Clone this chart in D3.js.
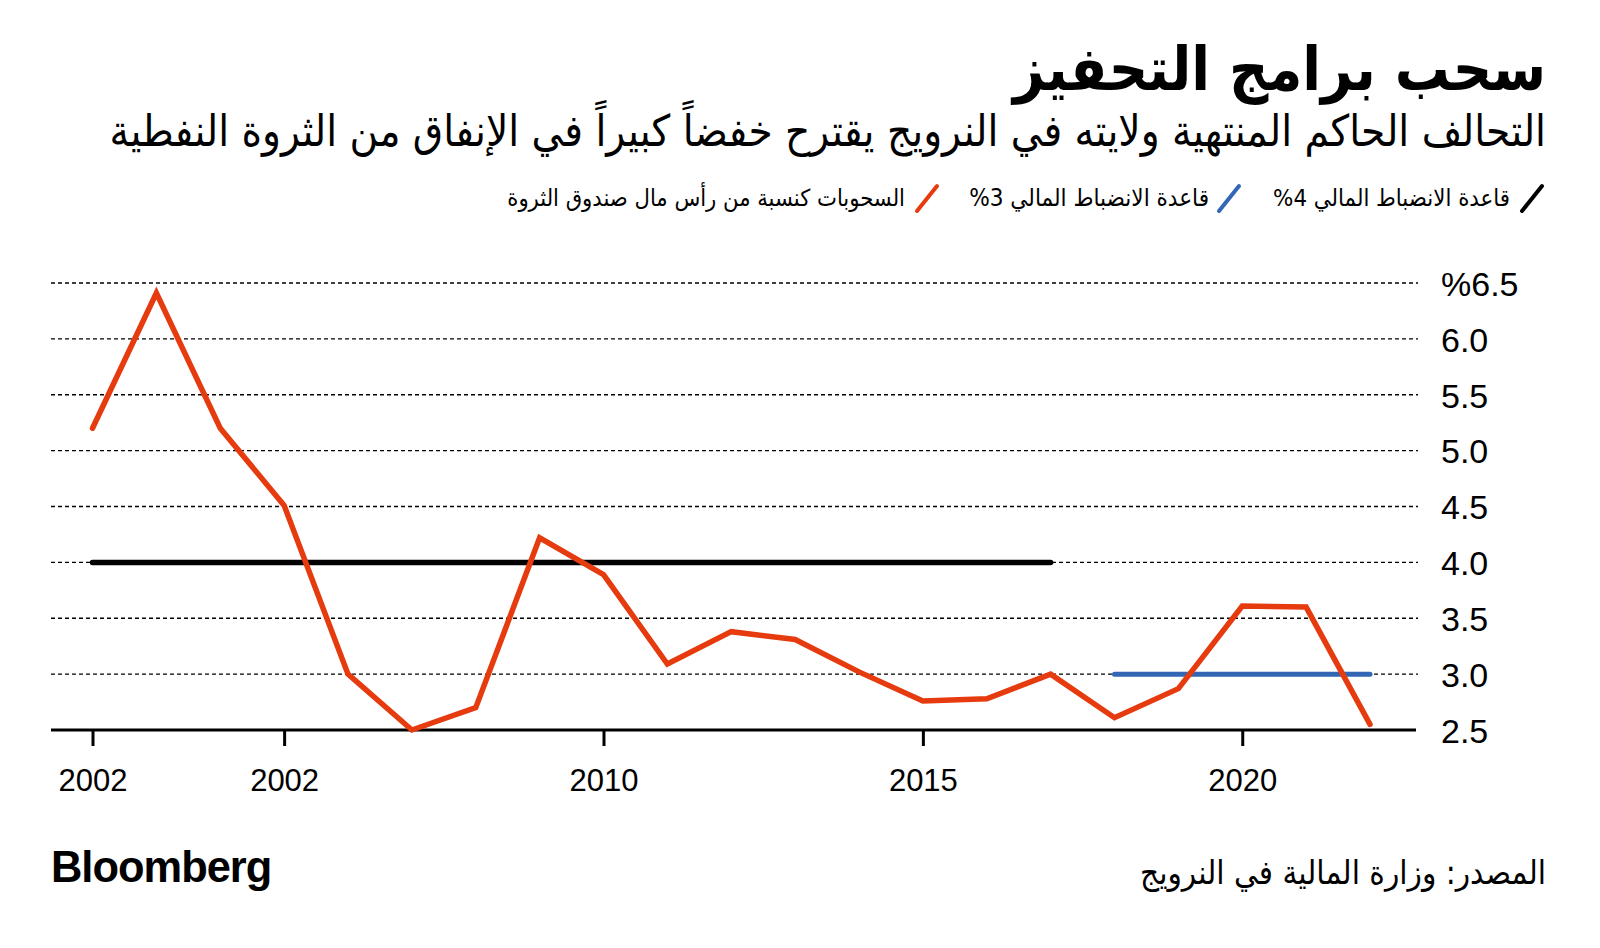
<!DOCTYPE html>
<html><head><meta charset="utf-8">
<script src="https://cdn.jsdelivr.net/npm/d3@7"></script>
<style>
html,body{margin:0;padding:0;background:#fff;}
svg{display:block;}
</style></head>
<body>
<svg id="chart" width="1600" height="948"></svg>
<script>
// ---- data ----
const years = [2002,2003,2004,2005,2006,2007,2008,2009,2010,2011,2012,2013,2014,2015,2016,2017,2018,2019,2020,2021,2022];
const withdrawals = [5.2,6.41,5.2,4.51,3.0,2.5,2.7,4.22,3.89,3.09,3.38,3.31,3.02,2.76,2.78,3.0,2.61,2.87,3.61,3.6,2.55];
const rule4Years = [2002, 2017];
const rule4Values = [4.0, 4.0];
const rule3Years = [2018, 2022];
const rule3Values = [3.0, 3.0];
const xTickValues = [2002, 2005, 2010, 2015, 2020];
const xTickLabels = ["2002", "2002", "2010", "2015", "2020"];
const yTickValues = [2.5,3.0,3.5,4.0,4.5,5.0,5.5,6.0,6.5];
const yTickLabels = ["2.5","3.0","3.5","4.0","4.5","5.0","5.5","6.0","%6.5"];
const titleText = "سحب برامج التحفيز";
const subtitleText = "التحالف الحاكم المنتهية ولايته في النرويج يقترح خفضاً كبيراً في الإنفاق من الثروة النفطية";
const legendLabels = ["قاعدة الانضباط المالي \u202E4%\u202C", "قاعدة الانضباط المالي \u202E3%\u202C", "السحوبات كنسبة من رأس مال صندوق الثروة"];
const legendColors = ["#000000", "#3366b5", "#e63b0e"];
const sourceText = "المصدر: وزارة المالية في النرويج";

// ---- drawing ----
const svg = d3.select("#chart");
const arabicFont = "'DejaVu Sans Condensed','DejaVu Sans',sans-serif";
const latinFont = "'Liberation Sans',Arial,sans-serif";

const x = d3.scaleLinear().domain([2002, 2022]).range([92.5, 1370]);
const y = d3.scaleLinear().domain([2.5, 6.5]).range([730, 283]);

function fitText(sel, targetWidth) {
  const node = sel.node();
  const w = node.getComputedTextLength();
  const fs = parseFloat(sel.attr("font-size"));
  sel.attr("font-size", (fs * targetWidth / w).toFixed(2));
}

// title
const title = svg.append("text").attr("x", 1546).attr("y", 90)
  .attr("direction", "rtl").attr("text-anchor", "start")
  .attr("font-family", arabicFont).attr("font-weight", "bold")
  .attr("font-size", 60).attr("fill", "#000").text(titleText);
fitText(title, 533);

const subtitle = svg.append("text").attr("x", 1546).attr("y", 146)
  .attr("direction", "rtl").attr("text-anchor", "start")
  .attr("font-family", arabicFont)
  .attr("font-size", 34).attr("fill", "#000").text(subtitleText);
fitText(subtitle, 1437);

// legend
const legendSlashX = [1522, 1219, 917];
const legendTextRight = [1510, 1209, 905];
const legendTextWidth = [237, 240, 398];
legendLabels.forEach((lab, i) => {
  svg.append("line")
    .attr("x1", legendSlashX[i]).attr("y1", 211)
    .attr("x2", legendSlashX[i] + 20).attr("y2", 186)
    .attr("stroke", legendColors[i]).attr("stroke-width", 4).attr("stroke-linecap", "round");
  const t = svg.append("text").attr("x", legendTextRight[i]).attr("y", 206)
    .attr("direction", "rtl").attr("text-anchor", "start")
    .attr("font-family", arabicFont).attr("font-size", 20).attr("fill", "#000").text(lab);
  fitText(t, legendTextWidth[i]);
});

// gridlines
svg.append("g").selectAll("line")
  .data(yTickValues.filter(v => v > 2.5))
  .join("line")
  .attr("x1", 51).attr("x2", 1418)
  .attr("y1", d => y(d)).attr("y2", d => y(d))
  .attr("stroke", "#000").attr("stroke-width", 1.3)
  .attr("stroke-dasharray", "4,3");

// y axis labels
const yAxis = d3.axisRight(y).tickValues(yTickValues)
  .tickFormat((d, i) => yTickLabels[i]).tickSize(0).tickPadding(0);
const yg = svg.append("g").attr("transform", "translate(1441,0)").call(yAxis);
yg.select(".domain").remove();
yg.selectAll("text").attr("font-family", latinFont).attr("font-size", 34)
  .attr("fill", "#000").attr("dy", "0.36em");

// x axis
const xAxis = d3.axisBottom(x).tickValues(xTickValues)
  .tickFormat((d, i) => xTickLabels[i]).tickSize(16).tickPadding(23).tickSizeOuter(0);
const xg = svg.append("g").attr("transform", "translate(0,730)").call(xAxis);
xg.select(".domain").remove();
xg.selectAll(".tick line").attr("stroke", "#000").attr("stroke-width", 3);
xg.selectAll("text").attr("font-family", latinFont).attr("font-size", 31).attr("fill", "#000");
svg.append("line").attr("x1", 51).attr("x2", 1416).attr("y1", y(2.5)).attr("y2", y(2.5))
  .attr("stroke", "#000").attr("stroke-width", 3);

// lines
const line = d3.line().x(d => x(d[0])).y(d => y(d[1]));
svg.append("path").datum(d3.zip(rule4Years, rule4Values)).attr("d", line)
  .attr("fill", "none").attr("stroke", legendColors[0]).attr("stroke-width", 5.5).attr("stroke-linecap", "round");
svg.append("path").datum(d3.zip(rule3Years, rule3Values)).attr("d", line)
  .attr("fill", "none").attr("stroke", legendColors[1]).attr("stroke-width", 5).attr("stroke-linecap", "round");
svg.append("path").datum(d3.zip(years, withdrawals)).attr("d", line)
  .attr("fill", "none").attr("stroke", legendColors[2]).attr("stroke-width", 5.5)
  .attr("stroke-linejoin", "miter").attr("stroke-linecap", "round");

// footer
const logo = svg.append("text").attr("x", 51).attr("y", 882)
  .attr("font-family", latinFont).attr("font-weight", "bold")
  .attr("font-size", 42).attr("letter-spacing", -1).attr("fill", "#000").text("Bloomberg");
fitText(logo, 220);

const src = svg.append("text").attr("x", 1546).attr("y", 884)
  .attr("direction", "rtl").attr("text-anchor", "start")
  .attr("font-family", arabicFont).attr("font-size", 28).attr("fill", "#000").text(sourceText);
fitText(src, 406);
</script>
</body></html>
